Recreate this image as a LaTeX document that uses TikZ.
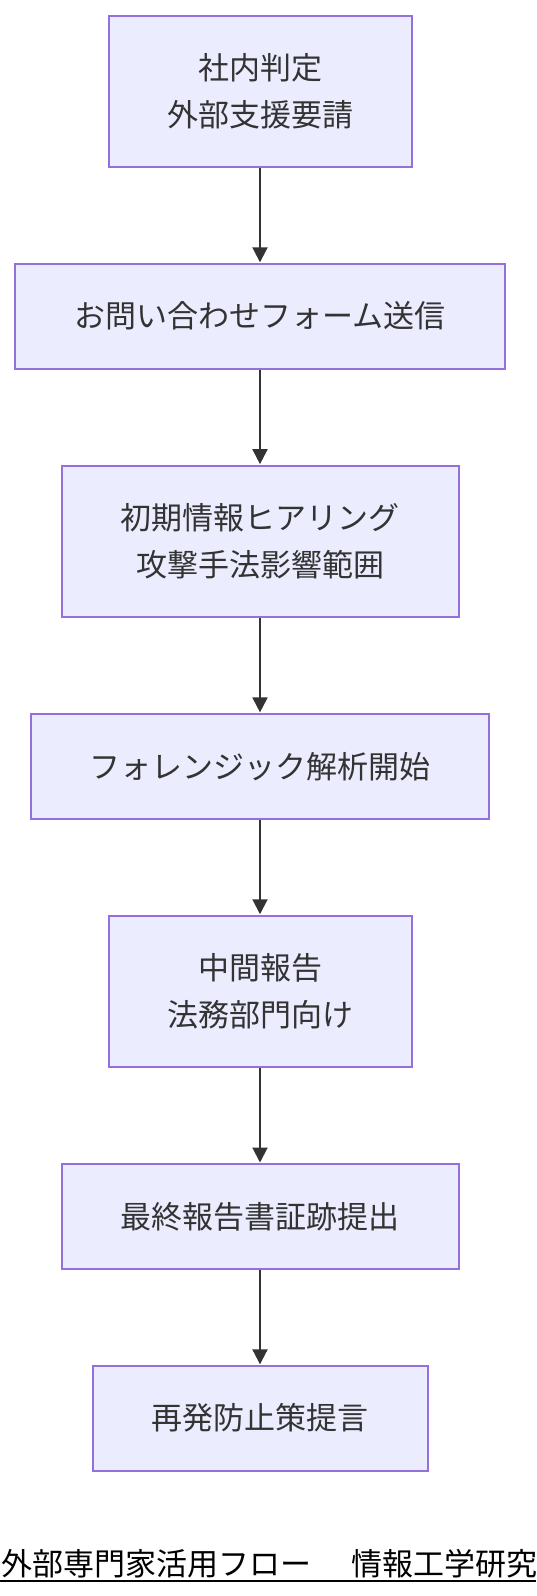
\documentclass[tikz,border=0pt]{standalone}
\usepackage{fontspec}
\newfontfamily\jp{Noto Sans CJK JP}
\usetikzlibrary{arrows.meta}
\definecolor{boxfill}{HTML}{ECECFF}
\definecolor{boxline}{HTML}{9370DB}
\definecolor{ink}{HTML}{333333}
\tikzset{
  flowbox/.style={draw=boxline, fill=boxfill, line width=2pt, rectangle, inner sep=0pt,
    text=ink, align=center, font={\jp\fontsize{31}{46.6}\selectfont}},
  onerow/.style={minimum height=104.8pt},
  tworow/.style={minimum height=151.3pt},
  flowarrow/.style={draw=ink, line width=2pt, -{Triangle[width=15pt,length=15pt]}, shorten >=0.5pt}
}
\begin{document}
\begin{tikzpicture}[x=1pt,y=-1pt]
\useasboundingbox (0,0) rectangle (536,1596);
\clip (0,0) rectangle (536,1596);
\node[flowbox, tworow, minimum width=303pt] (n1) at (260,91.2) {社内判定\\外部支援要請};
\node[flowbox, onerow, minimum width=490pt] (n2) at (260,316.2) {お問い合わせフォーム送信};
\node[flowbox, tworow, minimum width=397pt] (n3) at (260,541.3) {初期情報ヒアリング\\攻撃手法影響範囲};
\node[flowbox, onerow, minimum width=458pt] (n4) at (260,766.3) {フォレンジック解析開始};
\node[flowbox, tworow, minimum width=303pt] (n5) at (260,991.4) {中間報告\\法務部門向け};
\node[flowbox, onerow, minimum width=397pt] (n6) at (260,1216.4) {最終報告書証跡提出};
\node[flowbox, onerow, minimum width=335pt] (n7) at (260,1418.2) {再発防止策提言};
\foreach \a/\b in {n1/n2,n2/n3,n3/n4,n4/n5,n5/n6,n6/n7}
  \draw[flowarrow] (\a.south) -- (\b.north);
\node[anchor=west, inner sep=0pt, text=black, font={\jp\fontsize{31}{31}\selectfont}] (title) at (1,1564) {外部専門家活用フロー\hspace{40pt}情報工学研究};
\coordinate (ulA) at (0,1581);
\coordinate (ulB) at (536,1581);
\draw[black, line width=2pt] (ulA) -- (ulB);
\end{tikzpicture}
\end{document}
